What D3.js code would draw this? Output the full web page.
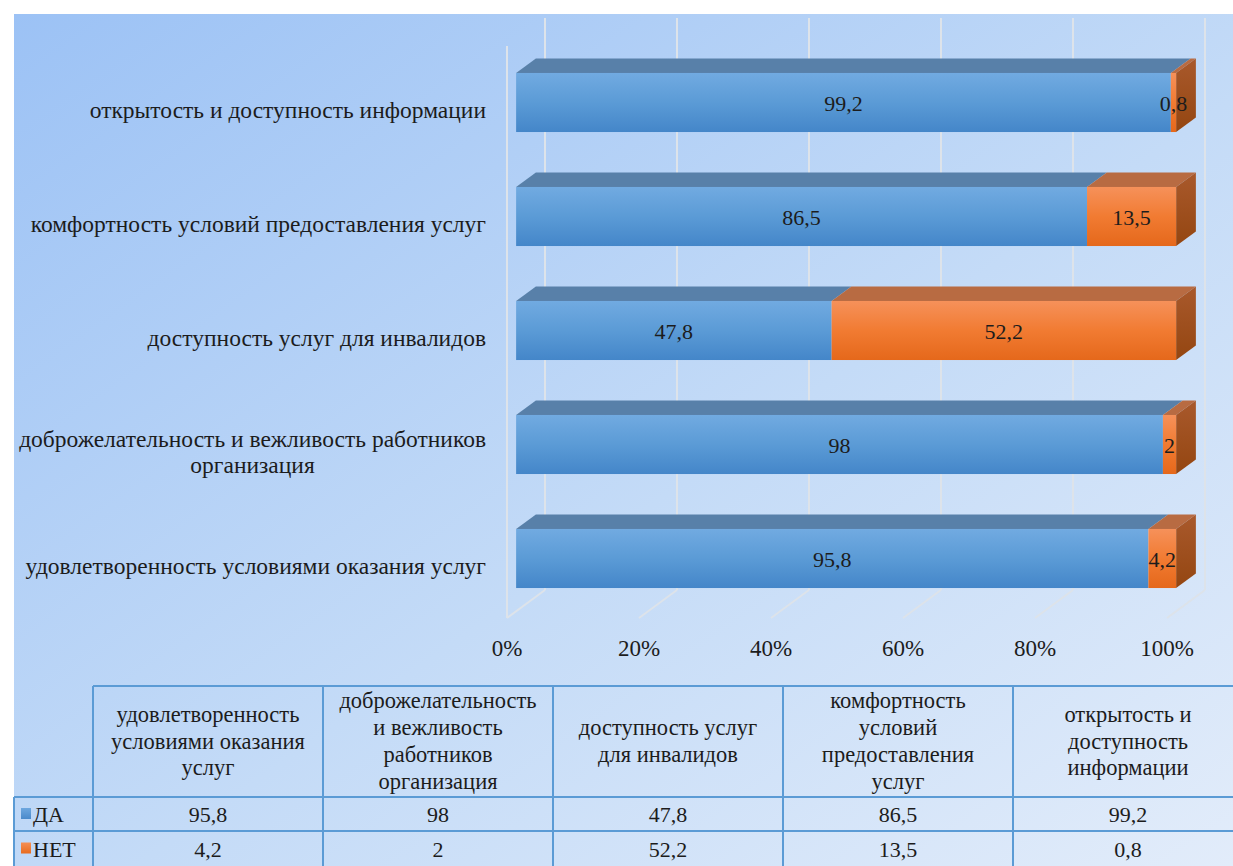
<!DOCTYPE html>
<html>
<head>
  <meta charset="utf-8">
  <title>Оценка качества услуг</title>
  <style>
    body { margin: 0; background: #fff; }
    svg { display: block; }
  </style>
</head>
<body>
  <div id="chart"></div>

  <script src="https://d3js.org/d3.v7.min.js"></script>
  <script>
    // data (table order: bottom bar first)
    const categories = [
      "удовлетворенность условиями оказания услуг",
      "доброжелательность и вежливость работников организация",
      "доступность услуг для инвалидов",
      "комфортность условий предоставления услуг",
      "открытость и доступность информации"
    ];
    const axisLines = [
      ["удовлетворенность условиями оказания услуг"],
      ["доброжелательность и вежливость работников", "организация"],
      ["доступность услуг для инвалидов"],
      ["комфортность условий предоставления услуг"],
      ["открытость и доступность информации"]
    ];
    const headerLines = [
      ["удовлетворенность", "условиями оказания", "услуг"],
      ["доброжелательность", "и вежливость", "работников", "организация"],
      ["доступность услуг", "для инвалидов"],
      ["комфортность", "условий", "предоставления", "услуг"],
      ["открытость и", "доступность", "информации"]
    ];
    const seriesNames = ["ДА", "НЕТ"];
    const daValues = [95.8, 98, 47.8, 86.5, 99.2];
    const netValues = [4.2, 2, 52.2, 13.5, 0.8];
    const tickValues = [0, 20, 40, 60, 80, 100];

    const width = 1233, height = 866;
    const fmt = d3.formatLocale({decimal: ",", thousands: " ", grouping: [3], currency: ["", ""]}).format(".1~f");

    const rows = categories.map((c, i) => ({name: c, "ДА": daValues[i], "НЕТ": netValues[i]}));
    const stacked = d3.stack().keys(seriesNames)(rows);

    const svg = d3.select("#chart").append("svg")
      .attr("width", width)
      .attr("height", height)
      .style("font-family", "'Liberation Serif', 'DejaVu Serif', 'Noto Serif', 'FreeSerif', serif")
      .attr("fill", "#1c1c1c");

    const defs = svg.append("defs");
    const bg = defs.append("linearGradient").attr("id", "bg")
      .attr("x1", 0).attr("y1", 0).attr("x2", 1).attr("y2", 1);
    bg.append("stop").attr("offset", 0).attr("stop-color", "#9cc2f5");
    bg.append("stop").attr("offset", 0.55).attr("stop-color", "#c4dbf7");
    bg.append("stop").attr("offset", 1).attr("stop-color", "#e2ecfa");

    function vgrad(id, stops) {
      const g = defs.append("linearGradient").attr("id", id)
        .attr("x1", 0).attr("y1", 0).attr("x2", 0).attr("y2", 1);
      stops.forEach(([o, c]) => g.append("stop").attr("offset", o).attr("stop-color", c));
    }
    vgrad("blueFront", [[0, "#71aae1"], [0.5, "#5b9bd6"], [1, "#4486c9"]]);
    vgrad("orangeFront", [[0, "#f6915a"], [0.5, "#f17b32"], [1, "#e5681b"]]);
    vgrad("orangeSide", [[0, "#a9592c"], [1, "#944611"]]);
    vgrad("blueSide", [[0, "#4f7fb0"], [1, "#3c6a9c"]]);
    vgrad("blueKey", [[0, "#6ea7df"], [1, "#4a8acb"]]);
    vgrad("orangeKey", [[0, "#f58f55"], [1, "#e86b1e"]]);

    const colors = {
      "ДА": {front: "url(#blueFront)", top: "#5880a9", side: "url(#blueSide)", key: "url(#blueKey)"},
      "НЕТ": {front: "url(#orangeFront)", top: "#b86b42", side: "url(#orangeSide)", key: "url(#orangeKey)"}
    };

    svg.append("rect")
      .attr("x", 14).attr("y", 14)
      .attr("width", width - 14).attr("height", height - 14)
      .attr("fill", "url(#bg)");

    // scales
    const x = d3.scaleLinear().domain([0, 100]).range([507, 1167]);
    const y = d3.scaleBand()
      .domain(categories.slice().reverse())
      .range([45.5, 615.5])
      .paddingInner(0.482)
      .paddingOuter(0.241);

    // depth projection: full depth offset
    const depthX = 38, depthY = -28;
    const barNear = 0.24, barFar = 0.76;
    const bdx = depthX * (barFar - barNear), bdy = depthY * (barFar - barNear);
    const nearX = depthX * barNear;

    // walls / gridlines
    const wallTop = 18, floorBack = 590;
    const grid = svg.append("g")
      .attr("stroke", "#dde3ea")
      .attr("stroke-width", 2)
      .attr("fill", "none");
    grid.selectAll("line.v")
      .data(tickValues)
      .join("line")
      .attr("class", "v")
      .attr("x1", d => x(d) + depthX).attr("x2", d => x(d) + depthX)
      .attr("y1", wallTop).attr("y2", floorBack);
    grid.selectAll("line.f")
      .data(tickValues)
      .join("line")
      .attr("class", "f")
      .attr("x1", d => x(d) + depthX).attr("y1", floorBack)
      .attr("x2", d => x(d)).attr("y2", floorBack - depthY);
    grid.append("line")
      .attr("x1", x(0)).attr("x2", x(0))
      .attr("y1", wallTop - depthY).attr("y2", floorBack - depthY);

    // tick labels
    svg.append("g")
      .attr("text-anchor", "middle")
      .selectAll("text")
      .data(tickValues)
      .join("text")
      .attr("x", d => x(d))
      .attr("y", 656)
      .attr("font-size", 23)
      .text(d => d + "%");

    // bars
    const bars = svg.append("g");
    const bh = y.bandwidth();
    stacked.forEach((series, si) => {
      const key = series.key;
      const col = colors[key];
      const g = bars.append("g");
      const segs = series.map((d, i) => ({
        name: categories[i],
        x0: x(d[0]) + nearX,
        x1: x(d[1]) + nearX,
        y: y(categories[i]),
        value: d[1] - d[0],
        last: si === stacked.length - 1
      }));
      // top faces
      g.selectAll("path.top")
        .data(segs)
        .join("path")
        .attr("class", "top")
        .attr("fill", col.top)
        .attr("d", s => `M${s.x0},${s.y}L${s.x1},${s.y}L${s.x1 + bdx},${s.y + bdy}L${s.x0 + bdx},${s.y + bdy}Z`);
      // side faces (only visible on the outer segment)
      g.selectAll("path.side")
        .data(segs.filter(s => s.last))
        .join("path")
        .attr("class", "side")
        .attr("fill", col.side)
        .attr("d", s => `M${s.x1},${s.y}L${s.x1 + bdx},${s.y + bdy}L${s.x1 + bdx},${s.y + bh + bdy}L${s.x1},${s.y + bh}Z`);
      // front faces
      g.selectAll("rect")
        .data(segs)
        .join("rect")
        .attr("x", s => s.x0)
        .attr("y", s => s.y)
        .attr("width", s => s.x1 - s.x0)
        .attr("height", bh)
        .attr("fill", col.front);
    });

    // value labels
    stacked.forEach(series => {
      bars.append("g")
        .attr("text-anchor", "middle")
        .selectAll("text")
        .data(series.map((d, i) => ({d, name: categories[i]})))
        .join("text")
        .attr("x", o => (x(o.d[0]) + x(o.d[1])) / 2 + nearX)
        .attr("y", o => y(o.name) + bh / 2 + 8)
        .attr("font-size", 22)
        .text(o => fmt(o.d[1] - o.d[0]));
    });

    // category labels
    const labelRight = 486;
    const catG = svg.append("g");
    categories.forEach((c, i) => {
      const lines = axisLines[i];
      const t = catG.append("text")
        .attr("font-size", 23.5)
        .attr("text-anchor", "middle");
      const cy = y(c) + bh / 2 + 15;
      lines.forEach((ln, k) => {
        t.append("tspan")
          .attr("y", cy + (k - (lines.length - 1) / 2) * 26)
          .text(ln);
      });
      const w = d3.max(t.selectAll("tspan").nodes(), n => n.getComputedTextLength());
      t.selectAll("tspan").attr("x", labelRight - w / 2);
    });

    // data table
    const tbl = svg.append("g");
    const col = d3.scaleBand().domain(categories).range([93, 93 + 5 * 230]);
    const headTop = 686, row1 = 797, row2 = 831, row3 = 866;
    const line = (x1, y1, x2, y2) => tbl.append("line")
      .attr("x1", x1).attr("y1", y1).attr("x2", x2).attr("y2", y2)
      .attr("stroke", "#5b9bd5").attr("stroke-width", 2);

    line(93, headTop, width, headTop);
    line(14, row1, width, row1);
    line(14, row2, width, row2);
    line(14, row1, 14, row3);
    categories.forEach(c => line(col(c), headTop, col(c), row3));

    categories.forEach((c, i) => {
      const lines = headerLines[i];
      const t = tbl.append("text")
        .attr("font-size", 22.5)
        .attr("text-anchor", "middle");
      const cy = (headTop + row1) / 2 + 7;
      lines.forEach((ln, k) => {
        t.append("tspan")
          .attr("x", col(c) + col.bandwidth() / 2)
          .attr("y", cy + (k - (lines.length - 1) / 2) * 26.7)
          .text(ln);
      });
    });

    const valueRows = [[daValues, row1, row2], [netValues, row2, row3]];
    valueRows.forEach(([vals, ya, yb], r) => {
      tbl.append("g")
        .attr("text-anchor", "middle")
        .selectAll("text")
        .data(vals)
        .join("text")
        .attr("x", (v, i) => col(categories[i]) + col.bandwidth() / 2)
        .attr("y", (ya + yb) / 2 + 8)
        .attr("font-size", 22)
        .text(v => fmt(v));
      tbl.append("rect")
        .attr("x", 21).attr("y", (ya + yb) / 2 - 6)
        .attr("width", 10).attr("height", 11)
        .attr("fill", colors[seriesNames[r]].key);
      tbl.append("text")
        .attr("x", 33).attr("y", (ya + yb) / 2 + 8)
        .attr("font-size", 22)
        .text(seriesNames[r]);
    });
  </script>
</body>
</html>
